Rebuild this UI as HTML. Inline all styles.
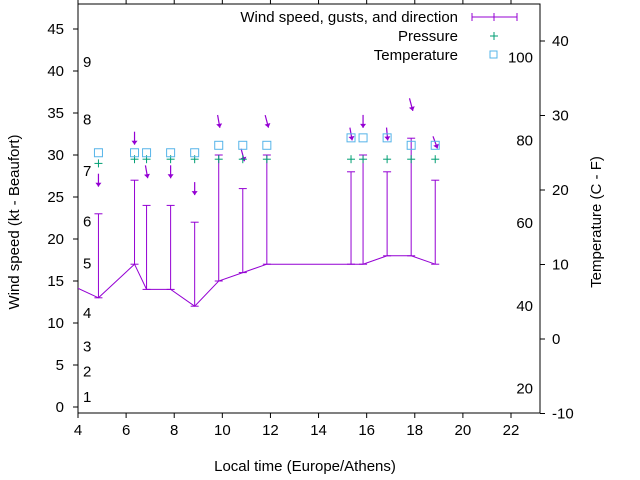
<!DOCTYPE html>
<html><head><meta charset="utf-8"><style>
html,body{margin:0;padding:0;background:#fff;}
svg{display:block;font-family:"Liberation Sans",sans-serif;}
</style></head><body>
<svg id="chart" width="640" height="480" viewBox="0 0 640 480" xmlns="http://www.w3.org/2000/svg">
<g id="axes"></g>
<g id="marks"></g>
<g id="legend"></g>
</svg>
<script>
const times = [4.85, 6.35, 6.85, 7.85, 8.85, 9.85, 10.85, 11.85, 15.35, 15.85, 16.85, 17.85, 18.85];
const windSpeed = [13, 17, 14, 14, 12, 15, 16, 17, 17, 17, 18, 18, 17];
const gusts = [23, 27, 24, 24, 22, 30, 26, 30, 28, 30, 28, 32, 27];
const arrowLevel = [27, 32, 28, 28, 26, 34, 30, 34, 32.5, 34, 32.5, 36, 31.5];
const direction = [0, 0, 350, 0, 0, 350, 345, 345, 350, 0, 355, 345, 340];
const pressure = [29, 29.5, 29.5, 29.5, 29.5, 29.5, 29.5, 29.5, 29.5, 29.5, 29.5, 29.5, 29.5];
const temperature = [25, 25, 25, 25, 25, 26, 26, 26, 27, 27, 27, 26, 26];
const prevTime = [3.35];
const prevSpeed = [15];
const xTicks = [4, 6, 8, 10, 12, 14, 16, 18, 20, 22];
const yTicks = [0, 5, 10, 15, 20, 25, 30, 35, 40, 45];
const y2Ticks = [-10, 0, 10, 20, 30, 40];
const beaufortLabels = ["1","2","3","4","5","6","7","8","9"];
const beaufortLevels = [1.2, 4.2, 7.2, 11.2, 17.1, 22.1, 28.1, 34.2, 41.1];
const fahrenheitLabels = ["20","40","60","80","100"];

const L=78,R=540,T=4,B=413;
const X=v=>78+(v-4)*(511-78)/18;
const Y=v=>407-v*(407-29)/45;
const Y2=v=>339-v*(339-41)/40;
const NS="http://www.w3.org/2000/svg";
function mk(tag,attrs,parent,text){const e=document.createElementNS(NS,tag);for(const k in attrs)e.setAttribute(k,attrs[k]);if(text!==undefined)e.textContent=text;parent.appendChild(e);return e;}
const axes=document.getElementById('axes'),marks=document.getElementById('marks'),legend=document.getElementById('legend');

let fr=mk('rect',{x:L,y:T,width:R-L,height:B-T,fill:'none',stroke:'#000','stroke-width':1},axes);

xTicks.forEach(v=>{
  mk('line',{x1:X(v),x2:X(v),y1:B,y2:B+5,stroke:'#000'},axes);
  mk('line',{x1:X(v),x2:X(v),y1:T,y2:T-5,stroke:'#000'},axes);
  let t=mk('text',{x:X(v),y:B+22,'text-anchor':'middle','font-size':15},axes,String(v));
  
});
yTicks.forEach(v=>{
  mk('line',{x1:L-5,x2:L,y1:Y(v),y2:Y(v),stroke:'#000'},axes);
  let t=mk('text',{x:L-14,y:Y(v)+5,'text-anchor':'end','font-size':15},axes,String(v));
  
});
y2Ticks.forEach(v=>{
  mk('line',{x1:R,x2:R+5,y1:Y2(v),y2:Y2(v),stroke:'#000'},axes);
  let t=mk('text',{x:R+12,y:Y2(v)+5,'font-size':15},axes,String(v));
  
});
beaufortLabels.forEach((s,i)=>{
  let t=mk('text',{x:83,y:Y(beaufortLevels[i])+5,'font-size':15},axes,s);
  
});
fahrenheitLabels.forEach(s=>{
  const c=(Number(s)-32)*5/9;
  let t=mk('text',{x:533,y:Y2(c)+5,'text-anchor':'end','font-size':15},axes,s);
  
});
let xt=mk('text',{x:305,y:471,'text-anchor':'middle','font-size':15},axes,'Local time (Europe/Athens)');

let yt=mk('text',{x:0,y:0,'text-anchor':'middle','font-size':15,transform:'translate(19,222) rotate(-90)'},axes,'Wind speed (kt - Beaufort)');

let y2t=mk('text',{x:0,y:0,'text-anchor':'middle','font-size':15,transform:'translate(601,222) rotate(-90)'},axes,'Temperature (C - F)');


// clip
const defs=mk('defs',{},marks);const cp=mk('clipPath',{id:'clip'},defs);mk('rect',{x:L,y:T,width:R-L,height:B-T},cp);
const g=mk('g',{'clip-path':'url(#clip)'},marks);
const purple='#9400d3';
let pts=[[X(prevTime[0]),Y(prevSpeed[0])]].concat(times.map((t,i)=>[X(t),Y(windSpeed[i])]));
let ln=mk('polyline',{points:pts.map(p=>p.join(',')).join(' '),fill:'none',stroke:purple,'stroke-width':1},g);

times.forEach((t,i)=>{
  const x=X(t);
  let b=mk('g',{},g);
  
  mk('line',{x1:x,x2:x,y1:Y(windSpeed[i]),y2:Y(gusts[i]),stroke:purple},b);
  mk('line',{x1:x-4,x2:x+4,y1:Y(gusts[i]),y2:Y(gusts[i]),stroke:purple},b);
  mk('line',{x1:x-4,x2:x+4,y1:Y(windSpeed[i]),y2:Y(windSpeed[i]),stroke:purple},b);
  // arrow
  const a=direction[i]*Math.PI/180, len=13;
  const cx=x, cy=Y(arrowLevel[i]);
  const dx=-Math.sin(a)*len/2, dy=Math.cos(a)*len/2;
  const x1=cx-dx,y1=cy-dy,x2=cx+dx,y2=cy+dy;
  let ar=mk('g',{},g);
  
  mk('line',{x1:x1,y1:y1,x2:x2,y2:y2,stroke:purple,'stroke-width':1.2},ar);
  const ux=dx/(len/2),uy=dy/(len/2);
  mk('polygon',{points:`${x2},${y2} ${x2-ux*4-uy*3},${y2-uy*4+ux*3} ${x2-ux*4+uy*3},${y2-uy*4-ux*3}`,fill:purple},ar);
  // pressure
  let p=mk('g',{},g);
  
  const py=Y(pressure[i]);
  mk('line',{x1:x-4,x2:x+4,y1:py,y2:py,stroke:'#009e73'},p);
  mk('line',{x1:x,x2:x,y1:py-4,y2:py+4,stroke:'#009e73'},p);
  // temperature
  let s=mk('rect',{x:x-4,y:Y2(temperature[i])-4,width:8,height:8,fill:'none',stroke:'#56b4e9'},g);
  
});

// legend
function lt(txt,y,name){let t=mk('text',{x:458,y:y+5,'text-anchor':'end','font-size':15},legend,txt);}
lt('Wind speed, gusts, and direction',17,'legend-wind');
mk('line',{x1:472,x2:517,y1:17,y2:17,stroke:purple},legend);
[472,494,517].forEach(x=>mk('line',{x1:x,x2:x,y1:13,y2:21,stroke:purple},legend));
lt('Pressure',36,'legend-pressure');
mk('line',{x1:490,x2:498,y1:36,y2:36,stroke:'#009e73'},legend);
mk('line',{x1:494,x2:494,y1:32,y2:40,stroke:'#009e73'},legend);
lt('Temperature',55,'legend-temperature');
mk('rect',{x:490,y:51,width:7,height:7,fill:'none',stroke:'#56b4e9'},legend);
</script>
</body></html>
